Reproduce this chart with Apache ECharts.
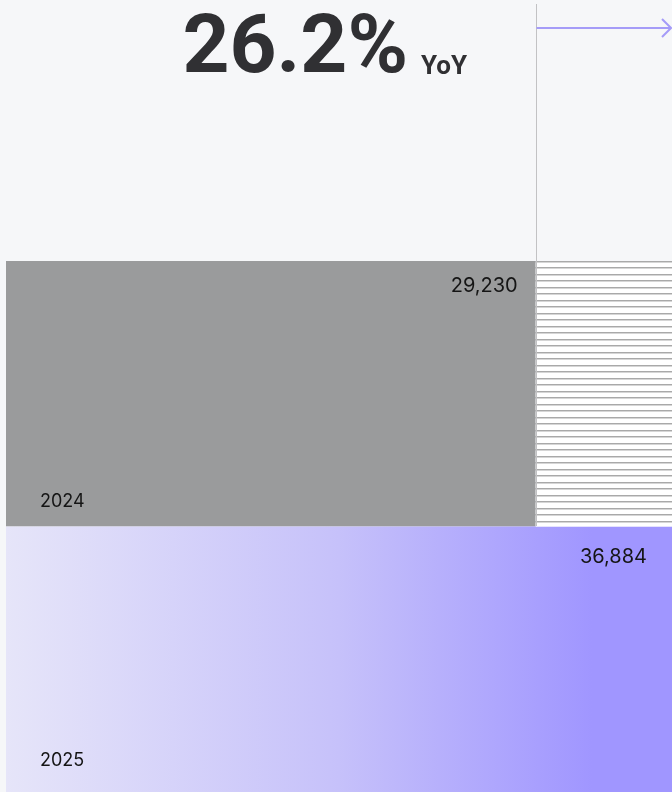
<!DOCTYPE html>
<html>
<head>
<meta charset="utf-8">
<script src="https://cdn.jsdelivr.net/npm/echarts@6/dist/echarts.min.js"></script>
<style>
  html, body { margin: 0; padding: 0; background: #f6f7f9; }
  #chart { width: 672px; height: 792px; }
</style>
</head>
<body>
<div id="chart"></div>
<script>
// data
var years = ['2024', '2025'];
var revenue = [29230, 36884];
var axisMax = 36750;

var yoy = ((revenue[1] / revenue[0] - 1) * 100).toFixed(1) + '%';
var fmt = function (v) { return v.toLocaleString('en-US'); };

// horizontal stripes for the gap between the 2024 bar and the right edge
var stripe = document.createElement('canvas');
stripe.width = 8;
stripe.height = 13;
var ctx = stripe.getContext('2d');
ctx.fillStyle = '#ffffff';
ctx.fillRect(0, 0, 8, 13);
ctx.fillStyle = '#a9a9a9';
ctx.fillRect(0, 1, 8, 1);
ctx.fillRect(0, 7, 8, 1);
ctx.fillStyle = '#d6d6d6';
ctx.fillRect(0, 2, 8, 1);
ctx.fillRect(0, 8, 8, 1);

var myChart = echarts.init(document.getElementById('chart'));

var option = {
    backgroundColor: '#f6f7f9',
    animation: false,
    grid: {left: 6, right: 0, top: 261, bottom: 0},
    xAxis: {
        type: 'value', min: 0, max: axisMax, show: false
    },
    yAxis: {
        type: 'category', data: years, inverse: true, show: false
    },
    series: [
        {
            type: 'bar',
            name: 'revenue',
            stack: 'total',
            barWidth: '100%',
            data: [
                {
                    value: revenue[0],
                    itemStyle: {color: '#9a9b9c'},
                    label: {offset: [-18, 15]}
                },
                {
                    value: revenue[1],
                    itemStyle: {
                        color: new echarts.graphic.LinearGradient(0, 0, 1, 0, [
                            {offset: 0, color: '#e6e5f9'},
                            {offset: 0.5, color: '#c6c1fa'},
                            {offset: 0.88, color: '#a096ff'},
                            {offset: 1, color: '#a096ff'}
                        ])
                    },
                    label: {offset: [-25, 20]}
                }
            ],
            label: {
                show: true,
                position: 'insideTopRight',
                distance: 0,
                formatter: function (p) { return fmt(p.value); },
                fontFamily: 'Inter',
                fontSize: 20,
                color: '#151515'
            }
        },
        {
            // remainder of the 2024 row, drawn as stripes
            type: 'bar',
            name: 'gap',
            stack: 'total',
            barWidth: '100%',
            silent: true,
            data: [axisMax - revenue[0], 0],
            itemStyle: {
                color: {image: stripe, repeat: 'repeat'}
            }
        },
        {
            // year captions at the bottom left of each row
            type: 'bar',
            name: 'year',
            barWidth: '100%',
            barGap: '-100%',
            data: [
                {value: revenue[0], label: {offset: [34, -16]}},
                {value: revenue[1], label: {offset: [34, -22]}}
            ],
            itemStyle: {color: 'transparent'},
            silent: true,
            label: {
                show: true,
                position: 'insideBottomLeft',
                distance: 0,
                formatter: function (p) { return p.name; },
                fontFamily: 'Inter',
                fontSize: 18,
                color: '#151515'
            }
        }
    ]
};

myChart.setOption(option);

// marker line at the 2024 value and arrow towards 2025
var x24 = Math.round(myChart.convertToPixel({gridIndex: 0}, [revenue[0], 0])[0]) + 0.5;

myChart.setOption({
    graphic: [
        {
            type: 'line',
            shape: {x1: x24, y1: 4, x2: x24, y2: 526},
            style: {stroke: '#c2c2c4', lineWidth: 1},
            z: 10
        },
        {
            type: 'line',
            shape: {x1: x24, y1: 28, x2: 671, y2: 28},
            style: {stroke: '#a59cf8', lineWidth: 2},
            z: 10
        },
        {
            type: 'polyline',
            shape: {points: [[662, 19], [671, 28], [662, 37]]},
            style: {stroke: '#a59cf8', lineWidth: 2, fill: null},
            z: 10
        },
        {
            type: 'text',
            x: 408, y: 92,
            style: {
                text: yoy,
                fontFamily: 'Roboto',
                fontWeight: 700,
                fontSize: 82,
                fill: '#303033',
                align: 'right',
                verticalAlign: 'bottom'
            }
        },
        {
            type: 'text',
            x: 421, y: 80,
            style: {
                text: 'YoY',
                fontFamily: 'Roboto',
                fontWeight: 700,
                fontSize: 26,
                fill: '#303033',
                align: 'left',
                verticalAlign: 'bottom'
            }
        }
    ]
});
</script>
</body>
</html>
